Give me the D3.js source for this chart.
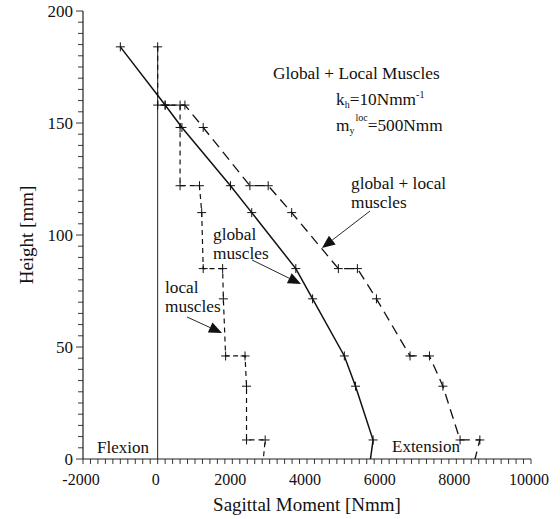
<!DOCTYPE html>
<html>
<head>
<meta charset="utf-8">
<script src="https://cdn.jsdelivr.net/npm/d3@7"></script>
<style>
  body { margin: 0; background: #fff; }
  svg { display: block; }
  text { font-family: "Liberation Serif", "Times New Roman", serif; fill: #111; }
</style>
</head>
<body>
<div id="chart"></div>
<script>
(function() {
  const width = 560, height = 519;
  const margin = { top: 11, right: 29, bottom: 60, left: 83 };

  // moment [Nmm] vs height [mm]
  const globalMoment = [-1000, 200, 650, 1950, 2520, 3700, 4150, 5000, 5300, 5770, 5700];
  const globalHeight = [184, 158, 148, 122, 110, 85, 71.5, 46, 32.5, 8.5, 0];

  const localMoment = [0, 0, 600, 600, 600, 1120, 1180, 1220, 1740, 1760, 1820, 2340, 2380, 2380, 2880, 2830];
  const localHeight = [184, 158, 158, 148, 122, 122, 110, 85, 85, 71.5, 46, 46, 32.5, 8.5, 8.5, 0];

  const bothMoment = [200, 730, 1220, 2470, 2960, 3590, 4840, 5350, 5860, 6760, 7280, 7640, 8100, 8630, 8500];
  const bothHeight = [158, 158, 148, 122, 122, 110, 85, 85, 71.5, 46, 46, 32.5, 8.5, 8.5, 0];

  const xTicks = [-2000, 0, 2000, 4000, 6000, 8000, 10000];
  const yTicks = [0, 50, 100, 150, 200];

  const svg = d3.select("#chart").append("svg")
    .attr("width", width)
    .attr("height", height);

  const x = d3.scaleLinear().domain([-2000, 10000]).range([margin.left, width - margin.right]);
  const y = d3.scaleLinear().domain([0, 200]).range([height - margin.bottom, margin.top]);

  // axes
  const xAxis = svg.append("g").attr("transform", `translate(0,${y(0)})`);
  xAxis.append("line")
    .attr("x1", x(-2000)).attr("x2", x(10000))
    .attr("stroke", "#222").attr("stroke-width", 1.2);
  xAxis.selectAll(".minor")
    .data(d3.range(-2000, 10001, 200))
    .join("line")
    .attr("x1", d => x(d)).attr("x2", d => x(d))
    .attr("y1", 0).attr("y2", 5)
    .attr("stroke", "#222").attr("stroke-width", 0.9);
  xAxis.selectAll(".lbl")
    .data(xTicks)
    .join("text")
    .attr("x", d => x(d) - 2)
    .attr("y", 26)
    .attr("text-anchor", "middle")
    .attr("font-size", 16)
    .text(d => d);

  const yAxis = svg.append("g").attr("transform", `translate(${x(-2000)},0)`);
  yAxis.append("line")
    .attr("y1", y(0)).attr("y2", y(200))
    .attr("stroke", "#222").attr("stroke-width", 1.2);
  yAxis.selectAll(".minor")
    .data(d3.range(0, 201, 5))
    .join("line")
    .attr("x1", d => d % 50 === 0 ? -7 : -5).attr("x2", 0)
    .attr("y1", d => y(d)).attr("y2", d => y(d))
    .attr("stroke", "#222").attr("stroke-width", 0.9);
  yAxis.selectAll(".lbl")
    .data(yTicks)
    .join("text")
    .attr("x", -10)
    .attr("y", d => y(d) + 5.5)
    .attr("text-anchor", "end")
    .attr("font-size", 17)
    .text(d => d);

  svg.append("text")
    .attr("x", (x(-2000) + x(10000)) / 2)
    .attr("y", 511)
    .attr("text-anchor", "middle")
    .attr("font-size", 19)
    .text("Sagittal Moment [Nmm]");

  svg.append("text")
    .attr("transform", `translate(33,${(y(0) + y(200)) / 2}) rotate(-90)`)
    .attr("text-anchor", "middle")
    .attr("font-size", 19)
    .text("Height [mm]");

  // zero line
  svg.append("line")
    .attr("x1", x(0)).attr("x2", x(0))
    .attr("y1", y(0)).attr("y2", y(localHeight[0]))
    .attr("stroke", "#222").attr("stroke-width", 1);

  const line = d3.line().x(d => x(d[0])).y(d => y(d[1]));

  const series = [
    { m: localMoment, h: localHeight, dash: "5,4", w: 1.2 },
    { m: bothMoment, h: bothHeight, dash: "10,6", w: 1.3 },
    { m: globalMoment, h: globalHeight, dash: null, w: 1.5 }
  ];

  series.forEach(s => {
    const pts = s.m.map((v, i) => [v, s.h[i]]);
    svg.append("path")
      .datum(pts)
      .attr("d", line)
      .attr("fill", "none")
      .attr("stroke", "#111")
      .attr("stroke-width", s.w)
      .attr("stroke-dasharray", s.dash);
    // crosses at every point except the axis end
    svg.append("g").selectAll("path")
      .data(pts.filter(p => p[1] > 0))
      .join("path")
      .attr("d", p => {
        const px = x(p[0]), py = y(p[1]);
        return `M${px - 4.5},${py}H${px + 4.5}M${px},${py - 4.5}V${py + 4.5}`;
      })
      .attr("stroke", "#111")
      .attr("stroke-width", 1);
  });

  // annotation text
  const note = svg.append("g").attr("font-size", 17.3);
  note.append("text").attr("x", 273).attr("y", 79).text("Global + Local Muscles");
  const kh = note.append("text").attr("x", 336).attr("y", 105);
  kh.append("tspan").text("k");
  kh.append("tspan").attr("font-size", 10).attr("dy", 3).text("h");
  kh.append("tspan").attr("dy", -3).text("=10Nmm");
  kh.append("tspan").attr("font-size", 10).attr("dy", -7).text("-1");
  const my = note.append("text").attr("x", 336).attr("y", 131);
  my.append("tspan").text("m");
  my.append("tspan").attr("font-size", 10).attr("dy", 3).text("y");
  my.append("tspan").attr("font-size", 10).attr("dy", -13).attr("dx", 1).text("loc");
  my.append("tspan").attr("dy", 10).text("=500Nmm");

  const lab = svg.append("g").attr("font-size", 17.3);
  lab.append("text").attr("x", 351).attr("y", 189).text("global + local");
  lab.append("text").attr("x", 351).attr("y", 208).text("muscles");
  lab.append("text").attr("x", 213).attr("y", 240).text("global");
  lab.append("text").attr("x", 213).attr("y", 259).text("muscles");
  lab.append("text").attr("x", 165).attr("y", 293).text("local");
  lab.append("text").attr("x", 165).attr("y", 312).text("muscles");
  lab.append("text").attr("x", 97).attr("y", 453).attr("font-size", 17).text("Flexion");
  lab.append("text").attr("x", 392).attr("y", 452).attr("font-size", 17).text("Extension");

  // arrows (pixel start -> tip)
  const arrows = [
    [370, 211, 322, 248],
    [252, 260, 301, 284],
    [187, 317, 222, 333]
  ];
  arrows.forEach(([x1, y1, x2, y2]) => {
    const a = Math.atan2(y2 - y1, x2 - x1);
    const L = 13, W = 5.5;
    const bx = x2 - L * Math.cos(a), by = y2 - L * Math.sin(a);
    svg.append("line")
      .attr("x1", x1).attr("y1", y1).attr("x2", bx).attr("y2", by)
      .attr("stroke", "#111").attr("stroke-width", 0.9);
    svg.append("path")
      .attr("d", `M${x2},${y2}L${bx - W * Math.sin(a)},${by + W * Math.cos(a)}L${bx + W * Math.sin(a)},${by - W * Math.cos(a)}Z`)
      .attr("fill", "#111");
  });
})();
</script>
</body>
</html>
